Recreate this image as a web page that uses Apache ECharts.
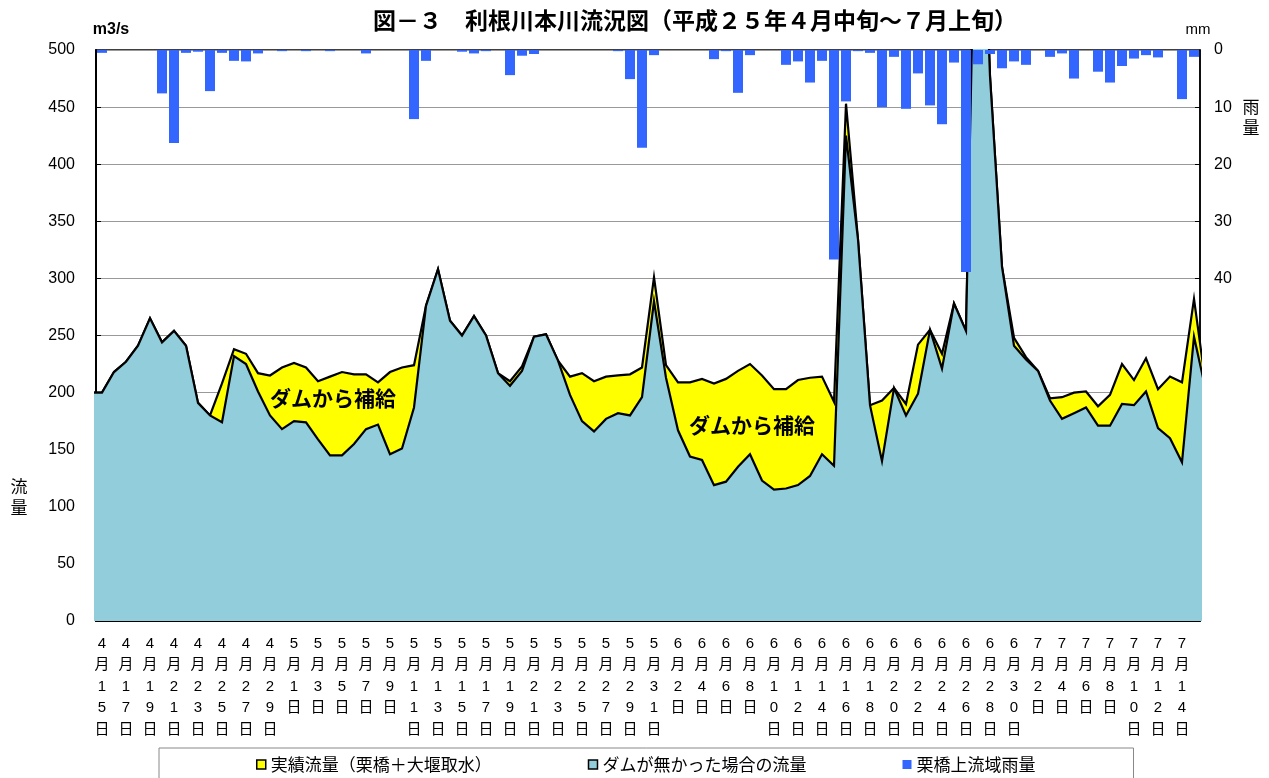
<!DOCTYPE html>
<html>
<head>
<meta charset="utf-8">
<script src="https://cdn.jsdelivr.net/npm/echarts@6/dist/echarts.min.js"></script>
<style>
html,body{margin:0;padding:0;background:#fff;}
#chart{width:1269px;height:778px;}
</style>
</head>
<body>
<div id="chart"></div>
<script>
// Bar categories: 4/15 .. 7/15
var categories = [
'4月15日','4月16日','4月17日','4月18日','4月19日','4月20日','4月21日','4月22日','4月23日','4月24日','4月25日','4月26日','4月27日','4月28日','4月29日','4月30日',
'5月1日','5月2日','5月3日','5月4日','5月5日','5月6日','5月7日','5月8日','5月9日','5月10日','5月11日','5月12日','5月13日','5月14日','5月15日','5月16日','5月17日','5月18日','5月19日','5月20日','5月21日','5月22日','5月23日','5月24日','5月25日','5月26日','5月27日','5月28日','5月29日','5月30日','5月31日',
'6月1日','6月2日','6月3日','6月4日','6月5日','6月6日','6月7日','6月8日','6月9日','6月10日','6月11日','6月12日','6月13日','6月14日','6月15日','6月16日','6月17日','6月18日','6月19日','6月20日','6月21日','6月22日','6月23日','6月24日','6月25日','6月26日','6月27日','6月28日','6月29日','6月30日',
'7月1日','7月2日','7月3日','7月4日','7月5日','7月6日','7月7日','7月8日','7月9日','7月10日','7月11日','7月12日','7月13日','7月14日','7月15日'
];
// Flow series include the day before (4/14) and after (7/16) the axis range; they run past the plot edges and are clipped
var flowDays = ['4月14日'].concat(categories).concat(['7月16日']);
var actualFlow = [
200,
200,218,227,241,265,244,254,241,191,180,208,238,234,217,215,222,
226,222,210,214,218,216,216,209,218,222,224,276,308,263,250,267,250,217,210,223,249,251,228,214,217,210,214,215,216,222,301,
224,209,209,212,208,212,219,225,215,203,203,211,213,214,192,453,334,189,193,204,190,242,255,234,278,254,765,477,310,248,
231,219,195,196,200,201,188,198,225,211,230,203,214,209,282,
205
];
var noDamFlow = [
200,
200,218,227,241,265,244,254,241,191,180,174,232,225,201,180,168,
175,174,159,145,145,155,168,172,146,151,187,276,308,263,250,267,250,217,206,219,249,251,228,198,175,166,177,182,180,196,280,
213,167,144,141,119,122,135,146,123,115,116,119,127,146,136,425,334,189,140,204,180,199,255,221,278,254,765,477,310,241,
229,219,193,177,182,187,171,171,190,189,201,169,160,139,249,
201
];
var rainfall = [
0.5,0,0,0,0,7.6,16.3,0.5,0.3,7.2,0.5,1.9,2.0,0.6,0,0.2,
0,0.2,0,0.2,0,0,0.6,0,0,0,12.1,1.9,0,0,0.3,0.6,0.2,0,4.4,1.0,0.7,0,0,0,0,0,0,0.2,5.1,17.1,0.9,
0,0,0,0,1.6,0.2,7.5,0.9,0,0,2.6,2.0,5.7,1.9,36.7,9.0,0.2,0.5,10.0,1.2,10.3,4.1,9.7,13.0,2.2,38.9,2.5,0.7,3.2,2.0,
2.6,0,1.2,0.6,5.0,0,3.8,5.7,2.8,1.5,0.9,1.3,0,8.6,1.2
];
var leftTicks = {min:0, max:500, interval:50};
var rightTicks = {min:0, max:100, interval:10, labelMax:40};

var seriesNames = ['実績流量（栗橋＋大堰取水）','ダムが無かった場合の流量','栗橋上流域雨量'];

function toXY(arr){
  return arr.map(function(v,k){ return [k-1, v]; });
}

var FONT = '"Liberation Sans","Noto Sans CJK JP",sans-serif';
var CJK = '"Noto Sans CJK JP","Liberation Sans",sans-serif';

var chart = echarts.init(document.getElementById('chart'), null, {renderer:'canvas'});
chart.setOption({
  animation:false,
  backgroundColor:'#fff',
  title:{
    text:'図－３　利根川本川流況図（平成２５年４月中旬～７月上旬）',
    left:368, top:4,
    textStyle:{fontFamily:CJK, fontSize:23, fontWeight:'bold', color:'#000'}
  },
  grid:{left:96, right:69, top:50, bottom:157, show:true, borderColor:'#000', borderWidth:1.5, backgroundColor:'transparent'},
  legend:{
    left:159, top:748,
    data:[
      {name:seriesNames[0], icon:'rect', itemStyle:{color:'#FFFF00', borderColor:'#000', borderWidth:1.5}},
      {name:seriesNames[1], icon:'rect', itemStyle:{color:'#92CDDC', borderColor:'#000', borderWidth:1.5}},
      {name:seriesNames[2], icon:'rect', itemStyle:{color:'#3366FF', borderWidth:0}}
    ],
    itemWidth:9, itemHeight:9, itemGap:96,
    borderColor:'#888', borderWidth:1,
    padding:[8,98,30,97],
    textStyle:{fontFamily:CJK, fontSize:17, color:'#000'}
  },
  xAxis:[
    {
      type:'category', data:categories, boundaryGap:true,
      axisLine:{lineStyle:{color:'#000', width:2}},
      axisTick:{inside:true, interval:1, length:4, lineStyle:{color:'#000'}},
      axisLabel:{interval:1, color:'#000', fontFamily:FONT, fontSize:15, lineHeight:21.5, margin:12,
        formatter:function(v){ return v.split('').join('\n'); }},
      splitLine:{show:false}
    },
    {
      type:'value', min:-0.5, max:categories.length-0.5, show:false
    }
  ],
  yAxis:[
    {
      type:'value', min:leftTicks.min, max:leftTicks.max, interval:leftTicks.interval, position:'left',
      axisLine:{show:true, onZero:false, lineStyle:{color:'#000', width:2}},
      axisTick:{show:true, inside:true, length:5, lineStyle:{color:'#000'}},
      axisLabel:{color:'#000', fontFamily:FONT, fontSize:16, margin:21},
      splitLine:{show:true, lineStyle:{color:'#999', width:1}}
    },
    {
      type:'value', min:rightTicks.min, max:rightTicks.max, interval:rightTicks.interval, position:'right', inverse:true,
      axisLine:{show:true, onZero:false, lineStyle:{color:'#000', width:1.5}},
      axisTick:{show:true, inside:true, length:5, lineStyle:{color:'#000'}},
      axisLabel:{color:'#000', fontFamily:FONT, fontSize:16, margin:14,
        formatter:function(v){ return v <= rightTicks.labelMax ? String(v) : ''; }},
      splitLine:{show:false}
    }
  ],
  series:[
    {
      name:seriesNames[0], type:'line', xAxisIndex:1, yAxisIndex:0,
      data:toXY(actualFlow), showSymbol:false, symbol:'none', clip:true, z:2,
      lineStyle:{color:'#000', width:2.2, join:'miter'},
      itemStyle:{color:'#FFFF00'},
      areaStyle:{color:'#FFFF00', opacity:1}
    },
    {
      name:seriesNames[1], type:'line', xAxisIndex:1, yAxisIndex:0,
      data:toXY(noDamFlow), showSymbol:false, symbol:'none', clip:true, z:3,
      lineStyle:{color:'#000', width:2.2, join:'miter'},
      itemStyle:{color:'#92CDDC'},
      areaStyle:{color:'#92CDDC', opacity:1}
    },
    {
      name:seriesNames[2], type:'bar', xAxisIndex:0, yAxisIndex:1,
      data:rainfall, barWidth:10, z:5,
      itemStyle:{color:'#3366FF'}
    }
  ],
  graphic:[
    {type:'text', x:111, y:30, style:{text:'m3/s', fontFamily:FONT, fontSize:16, fontWeight:'bold', fill:'#000', align:'center', verticalAlign:'middle'}},
    {type:'text', x:1198, y:30, style:{text:'mm', fontFamily:FONT, fontSize:15, fill:'#000', align:'center', verticalAlign:'middle'}},
    {type:'text', x:19, y:497, style:{text:'流\n量', fontFamily:CJK, fontSize:17, lineHeight:21, fill:'#000', align:'center', verticalAlign:'middle'}},
    {type:'text', x:1251, y:117, style:{text:'雨\n量', fontFamily:CJK, fontSize:17, lineHeight:21, fill:'#000', align:'center', verticalAlign:'middle'}},
    {type:'text', x:333, y:398, z:10, style:{text:'ダムから補給', fontFamily:CJK, fontSize:21, fontWeight:'bold', fill:'#000', align:'center', verticalAlign:'middle'}},
    {type:'text', x:752, y:425, z:10, style:{text:'ダムから補給', fontFamily:CJK, fontSize:21, fontWeight:'bold', fill:'#000', align:'center', verticalAlign:'middle'}}
  ]
});
</script>
</body>
</html>
